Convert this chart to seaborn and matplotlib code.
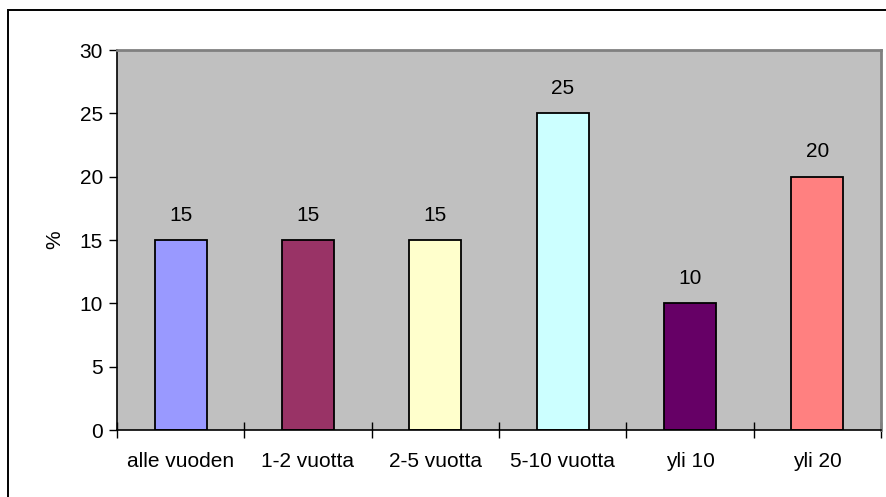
import matplotlib
matplotlib.use("Agg")
import matplotlib.pyplot as plt
import seaborn as sns
import pandas as pd
from matplotlib.patches import Rectangle

categories = ["alle vuoden", "1-2 vuotta", "2-5 vuotta", "5-10 vuotta", "yli 10", "yli 20"]
values = [15, 15, 15, 25, 10, 20]
colors = ["#9999FF", "#993366", "#FFFFCC", "#CCFFFF", "#660066", "#FF8080"]
yticks = [0, 5, 10, 15, 20, 25, 30]

sns.set_theme(style="white")
plt.rcParams["font.family"] = ["Liberation Sans", "DejaVu Sans"]
plt.rcParams["text.color"] = "black"
plt.rcParams["axes.labelcolor"] = "black"
plt.rcParams["xtick.color"] = "black"
plt.rcParams["ytick.color"] = "black"

df = pd.DataFrame({"cat": categories, "val": values})

W, H = 887, 497
fig = plt.figure(figsize=(W / 100, H / 100), dpi=100)
fig.patch.set_facecolor("white")
# figure border
fig.add_artist(Rectangle((8.5 / W, -0.01), 1.1, 1 - 9.5 / H + 0.01, transform=fig.transFigure,
                         fill=False, edgecolor="#000000", linewidth=1.4))

ax = fig.add_axes([117 / W, (H - 430) / H, (881 - 117) / W, (430 - 50) / H])
ax.set_facecolor("#C0C0C0")

sns.barplot(data=df, x="cat", y="val", hue="cat", palette=colors, legend=False,
            width=0.41, edgecolor="black", linewidth=1.3, ax=ax, saturation=1)

for c in ax.containers:
    ax.bar_label(c, labels=[f"{v:g}" for v in c.datavalues], padding=11, fontsize=15, color="black")

ax.set_xlim(-0.5, len(categories) - 0.5)
ax.set_ylim(0, 30)
ax.set_yticks(yticks)
ax.set_yticklabels([str(t) for t in yticks], fontsize=15, color="black")
ax.tick_params(axis="y", direction="out", length=6, width=1, color="black", labelcolor="black", pad=4, left=True)

# major ticks at category boundaries, labels at centers
ax.set_xticks([i - 0.5 for i in range(len(categories) + 1)])
ax.set_xticklabels([""] * (len(categories) + 1))
ax.set_xticks(list(range(len(categories))), minor=True)
ax.set_xticklabels(categories, minor=True, fontsize=15, color="black")
ax.tick_params(axis="x", which="major", direction="inout", length=12, width=1, color="black", bottom=True)
ax.tick_params(axis="x", which="minor", length=0, pad=16, labelcolor="black")

ax.set_xlabel("")
ax.set_ylabel("%", fontsize=15, labelpad=11, color="black")

for side in ["left", "bottom"]:
    ax.spines[side].set_visible(True)
    ax.spines[side].set_color("black")
    ax.spines[side].set_linewidth(1.2)
for side in ["top", "right"]:
    ax.spines[side].set_visible(True)
    ax.spines[side].set_color("#808080")
    ax.spines[side].set_linewidth(2)

fig.savefig("out.png", dpi=100)
